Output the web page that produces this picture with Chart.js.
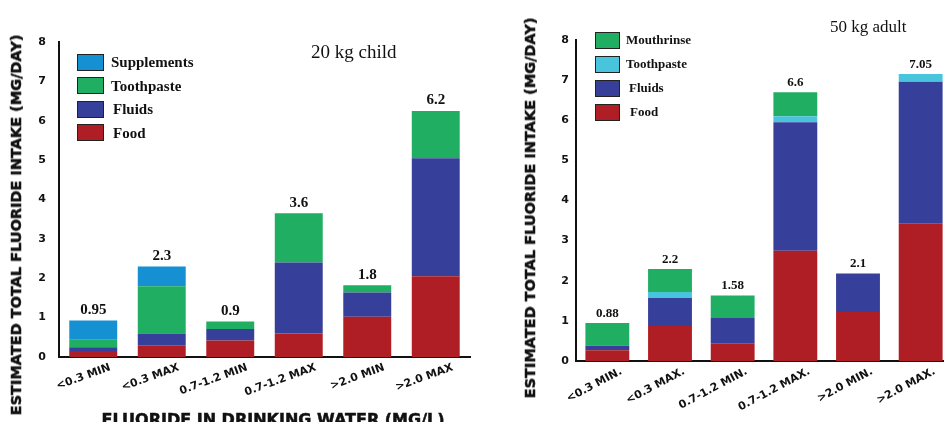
<!DOCTYPE html>
<html lang="en">
<head>
  <meta charset="UTF-8">
  <script src="https://cdn.jsdelivr.net/npm/chart.js"></script>
  <style>
    body {
      margin: 0;
      width: 944px;
      height: 422px;
      overflow: hidden;
      background: #fff;
      position: relative;
    }
    canvas { position: absolute; top: 0; }
    #childChart { left: 0; }
    #adultChart { left: 480px; }
    .axisTitle {
      position: absolute;
      font-family: 'DejaVu Sans', sans-serif;
      font-weight: bold;
      color: #111;
      -webkit-text-stroke: 0.5px #111;
      white-space: nowrap;
      transform: translate(-50%, -50%);
    }
    .axisTitle.rot { transform: translate(-50%, -50%) rotate(-90deg); }
    .panelTitle {
      position: absolute;
      font-family: 'Liberation Serif', serif;
      color: #111;
      white-space: nowrap;
    }
    .legend { position: absolute; font-family: 'Liberation Serif', serif; font-weight: bold; color: #111; }
    .legend .box { position: absolute; border: 1px solid #222; box-sizing: border-box; }
    .legend .txt { position: absolute; transform: translateY(-50%); white-space: nowrap; }
  </style>
  <title>Fluoride intake</title>
</head>
<body>
  <canvas id="childChart" width="480" height="422"></canvas>
  <canvas id="adultChart" width="480" height="422"></canvas>

  <div class="axisTitle rot" style="left:16px; top:225px; font-size:14.5px;">ESTIMATED TOTAL FLUORIDE INTAKE (MG/DAY)</div>
  <div class="axisTitle rot" style="left:530px; top:208px; font-size:14.5px;">ESTIMATED TOTAL FLUORIDE INTAKE (MG/DAY)</div>
  <div class="axisTitle" style="left:273px; top:419px; font-size:16px;">FLUORIDE IN DRINKING WATER (MG/L)</div>

  <div class="panelTitle" style="left:311px; top:41px; font-size:19px;">20 kg child</div>
  <div class="panelTitle" style="left:830px; top:17px; font-size:17px;">50 kg adult</div>

  <div class="legend" id="childLegend"></div>
  <div class="legend" id="adultLegend"></div>

  <script>
    // categories
    const childLabels = ['<0.3 MIN', '<0.3 MAX', '0.7-1.2 MIN', '0.7-1.2 MAX', '>2.0 MIN', '>2.0 MAX'];
    const adultLabels = ['<0.3 MIN.', '<0.3 MAX.', '0.7-1.2 MIN.', '0.7-1.2 MAX.', '>2.0 MIN.', '>2.0 MAX.'];

    // 20 kg child (mg/day)
    const childFood = [0.15, 0.3, 0.42, 0.6, 1.02, 2.05];
    const childFluids = [0.1, 0.3, 0.29, 1.8, 0.62, 3.0];
    const childToothpaste = [0.19, 1.2, 0.19, 1.25, 0.18, 1.2];
    const childSupplements = [0.49, 0.5, 0, 0, 0, 0];
    const childTotals = ['0.95', '2.3', '0.9', '3.6', '1.8', '6.2'];

    // 50 kg adult (mg/day)
    const adultFood = [0.27, 0.87, 0.44, 2.75, 1.22, 3.43];
    const adultFluids = [0.11, 0.7, 0.63, 3.2, 0.96, 3.53];
    const adultToothpaste = [0, 0.15, 0, 0.15, 0, 0.19];
    const adultMouthrinse = [0.57, 0.57, 0.56, 0.6, 0, 0];
    const adultTotals = ['0.88', '2.2', '1.58', '6.6', '2.1', '7.05'];

    const yTicks = [0, 1, 2, 3, 4, 5, 6, 7, 8];

    const RED = '#b01e25';
    const BLUE = '#363f99';
    const GREEN = '#20ae62';
    const SKY = '#1590d2';
    const CYAN = '#48c4dc';

    // number printed above each stack
    const totalsPlugin = {
      id: 'totals',
      afterDatasetsDraw(chart, args, opts) {
        const ctx = chart.ctx;
        const x = chart.scales.x, y = chart.scales.y;
        ctx.save();
        ctx.font = opts.font;
        ctx.fillStyle = '#111';
        ctx.textAlign = 'center';
        ctx.textBaseline = 'bottom';
        opts.labels.forEach((txt, i) => {
          let sum = 0;
          chart.data.datasets.forEach(ds => sum += ds.data[i]);
          ctx.fillText(txt, x.getPixelForValue(i), y.getPixelForValue(sum) - opts.gap);
        });
        ctx.restore();
      }
    };

    function makeChart(id, labels, datasets, o) {
      return new Chart(document.getElementById(id), {
        type: 'bar',
        data: { labels: labels, datasets: datasets },
        plugins: [totalsPlugin],
        options: {
          responsive: false,
          animation: false,
          layout: { padding: { top: o.top, right: o.right, left: 0, bottom: 0 } },
          datasets: { bar: { barPercentage: 0.7, categoryPercentage: 1 } },
          plugins: {
            legend: { display: false },
            tooltip: { enabled: false },
            totals: { labels: o.totals, font: o.valueFont, gap: 3 }
          },
          scales: {
            x: {
              stacked: true,
              grid: { display: false, drawTicks: false },
              border: { color: '#111', width: 2 },
              ticks: {
                color: '#111',
                font: { family: 'DejaVu Sans', weight: 'bold', size: 11 },
                minRotation: o.rot, maxRotation: o.rot,
                labelOffset: o.labelOffset,
                padding: 4,
                autoSkip: false
              },
              afterFit: s => { s.height = o.xHeight; }
            },
            y: {
              stacked: true,
              min: 0, max: 8,
              grid: { display: false, drawTicks: false },
              border: { color: '#111', width: 2 },
              afterBuildTicks: s => { s.ticks = yTicks.map(v => ({ value: v })); },
              ticks: {
                color: '#111',
                font: { family: 'DejaVu Sans', weight: 'bold', size: 11 },
                padding: o.yPad
              },
              afterFit: s => { s.width = o.yWidth; }
            }
          }
        }
      });
    }

    const child = makeChart('childChart', childLabels, [
      { label: 'Food', data: childFood, backgroundColor: RED },
      { label: 'Fluids', data: childFluids, backgroundColor: BLUE },
      { label: 'Toothpaste', data: childToothpaste, backgroundColor: GREEN },
      { label: 'Supplements', data: childSupplements, backgroundColor: SKY }
    ], { top: 42, right: 10, xHeight: 65, yWidth: 59, yPad: 13, rot: 20, labelOffset: 17,
         totals: childTotals, valueFont: 'bold 15px "Liberation Serif"' });

    const adult = makeChart('adultChart', adultLabels, [
      { label: 'Food', data: adultFood, backgroundColor: RED },
      { label: 'Fluids', data: adultFluids, backgroundColor: BLUE },
      { label: 'Toothpaste', data: adultToothpaste, backgroundColor: CYAN },
      { label: 'Mouthrinse', data: adultMouthrinse, backgroundColor: GREEN }
    ], { top: 40, right: 8, xHeight: 61, yWidth: 96, yPad: 7, rot: 28, labelOffset: 14,
         totals: adultTotals, valueFont: 'bold 13px "Liberation Serif"' });

    // legends, top entry = last stacked dataset
    function buildLegend(elId, chart, l) {
      const el = document.getElementById(elId);
      const items = chart.data.datasets.slice().reverse();
      items.forEach((ds, i) => {
        const cy = l.top + i * l.step;
        const box = document.createElement('div');
        box.className = 'box';
        box.style.cssText = `left:${l.left}px; top:${cy - l.bh / 2}px; width:${l.bw}px; height:${l.bh}px; background:${ds.backgroundColor};`;
        const txt = document.createElement('div');
        txt.className = 'txt';
        txt.textContent = ds.label;
        txt.style.cssText = `left:${l.textLeft[i]}px; top:${cy}px; font-size:${l.size}px;`;
        el.appendChild(box);
        el.appendChild(txt);
      });
    }

    buildLegend('childLegend', child, { left: 77, top: 62, step: 23.6, bw: 27, bh: 17, size: 15,
      textLeft: [111, 111, 113, 113] });
    buildLegend('adultLegend', adult, { left: 595, top: 40, step: 24.1, bw: 25, bh: 17, size: 13,
      textLeft: [626, 626, 629, 630] });
  </script>
</body>
</html>
